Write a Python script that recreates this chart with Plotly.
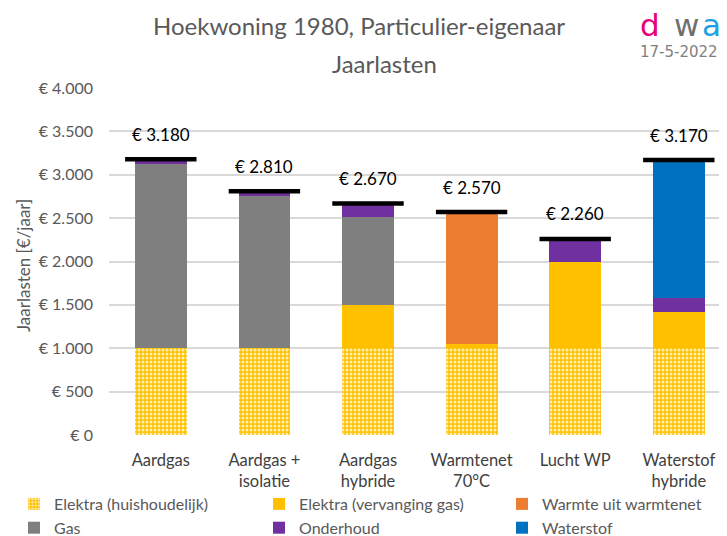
import plotly.graph_objects as go

categories = ["Aardgas", "Aardgas +<br>isolatie", "Aardgas<br>hybride", "Warmtenet<br>70°C", "Lucht WP", "Waterstof<br>hybride"]
elektra_huis = [1000, 1000, 1000, 1000, 1000, 1000]
elektra_verv = [0, 0, 500, 50, 990, 420]
warmte = [0, 0, 0, 1520, 0, 0]
gas = [2120, 1750, 1010, 0, 0, 0]
onderhoud = [60, 60, 160, 0, 270, 160]
waterstof = [0, 0, 0, 0, 0, 1590]
totals = [3180, 2810, 2670, 2570, 2260, 3170]
total_labels = ["€ 3.180", "€ 2.810", "€ 2.670", "€ 2.570", "€ 2.260", "€ 3.170"]
tick_vals = [0, 500, 1000, 1500, 2000, 2500, 3000, 3500, 4000]
tick_text = ["€ 0", "€ 500", "€ 1.000", "€ 1.500", "€ 2.000", "€ 2.500", "€ 3.000", "€ 3.500", "€ 4.000"]

FONT = "Lato"
OFF = 8  # page body margin offset
W, H = 727 - OFF, 536 - OFF
# plot area in window pixels: x 109..725, y 88..435
PLOT_X0, PLOT_X1 = 109, 725
SLOT = 103.6  # category slot width in px
L, R, T, B = PLOT_X0 - OFF, W - (PLOT_X1 - OFF), 88 - OFF, H - (435 - OFF)
PW, PH = W - L - R, H - T - B
X_RANGE = [-0.5, -0.5 + (PLOT_X1 - PLOT_X0) / SLOT]


def px(xw):
    return (xw - OFF - L) / PW


def py(yw):
    return (H - B - (yw - OFF)) / PH


fig = go.Figure()

bar_specs = [
    ("Elektra (huishoudelijk)", elektra_huis, "legend", dict(color="#FFC000", line=dict(width=0),
                                                               pattern=dict(shape=".", fgcolor="#FFEFB0", bgcolor="#FFC000",
                                                                            size=4, solidity=0.45, fillmode="replace"))),
    ("Elektra (vervanging gas)", elektra_verv, "legend2", dict(color="#FFC000", line=dict(width=0))),
    ("Warmte uit warmtenet", warmte, "legend3", dict(color="#ED7D31", line=dict(width=0))),
    ("Gas", gas, "legend", dict(color="#7F7F7F", line=dict(width=0))),
    ("Onderhoud", onderhoud, "legend2", dict(color="#7030A0", line=dict(width=0))),
    ("Waterstof", waterstof, "legend3", dict(color="#0070C0", line=dict(width=0))),
]
for i, (name, vals, leg, marker) in enumerate(bar_specs):
    fig.add_trace(go.Bar(x=categories, y=vals, name=name, legend=leg, legendgroup=f"g{i}", marker=marker))

fig.add_trace(go.Scatter(x=categories, y=totals, mode="markers", showlegend=False,
                         marker=dict(symbol="line-ew", size=51, color="black",
                                     line=dict(color="black", width=4.5)),
                         hoverinfo="skip"))

for c, t, lab in zip(categories, totals, total_labels):
    fig.add_annotation(x=c, y=t, text=lab, showarrow=False, yshift=25,
                       font=dict(family=FONT, size=17, color="black"))

# Title (two lines, as in the reference)
fig.add_annotation(xref="paper", yref="paper", x=px(359), y=py(26), xanchor="center", yanchor="middle",
                   text="Hoekwoning 1980, Particulier-eigenaar",
                   showarrow=False, font=dict(family=FONT, size=24, color="#595959"))
fig.add_annotation(xref="paper", yref="paper", x=px(384), y=py(63), xanchor="center", yanchor="middle",
                   text="Jaarlasten", showarrow=False, font=dict(family=FONT, size=24, color="#595959"))

# Y axis title
fig.add_annotation(xref="paper", yref="paper", x=px(23), y=py(266), xanchor="center", yanchor="middle",
                   text="Jaarlasten [€/jaar]", textangle=-90, showarrow=False,
                   font=dict(family=FONT, size=17, color="#595959"))

# Logo
for letter, xc, col in [("d", 650, "#E6007E"), ("w", 686, "#6F6F6F"), ("a", 711, "#1BA1E2")]:
    fig.add_annotation(xref="paper", yref="paper", x=px(xc), y=py(25), xanchor="center", yanchor="middle",
                       text=letter, showarrow=False,
                       font=dict(family="DejaVu Sans", size=31, color=col))
fig.add_annotation(xref="paper", yref="paper", x=px(679), y=py(52), xanchor="center", yanchor="middle",
                   text="17-5-2022", showarrow=False,
                   font=dict(family="DejaVu Sans", size=15, color="#7F7F7F"))

leg_common = dict(orientation="v", yref="container", y=1 - (487 - OFF) / H, yanchor="top", xref="container",
                  xanchor="left", font=dict(family=FONT, size=16, color="#595959"), itemwidth=30,
                  traceorder="normal", tracegroupgap=3, bgcolor="rgba(0,0,0,0)")

fig.update_layout(
    width=W, height=H,
    barmode="stack", bargap=0.5,
    plot_bgcolor="white", paper_bgcolor="white",
    margin=dict(l=L, r=R, t=T, b=B, autoexpand=False),
    font=dict(family=FONT, color="#595959"),
    legend=dict(x=(14 - OFF) / W, **leg_common),
    legend2=dict(x=(259 - OFF) / W, **leg_common),
    legend3=dict(x=(502 - OFF) / W, **leg_common),
    xaxis=dict(range=X_RANGE, showgrid=False, showline=False, ticks="", ticklabelstandoff=13,
               tickfont=dict(family=FONT, size=16.5, color="#404040")),
    yaxis=dict(range=[0, 4000], tickvals=tick_vals, ticktext=tick_text, showgrid=True,
               gridcolor="#D9D9D9", gridwidth=1.5, zeroline=False, showline=False, ticks="",
               ticklabelstandoff=15,
               tickfont=dict(family=FONT, size=16, color="#595959")),
    showlegend=True,
)

fig.write_html("out.html")
